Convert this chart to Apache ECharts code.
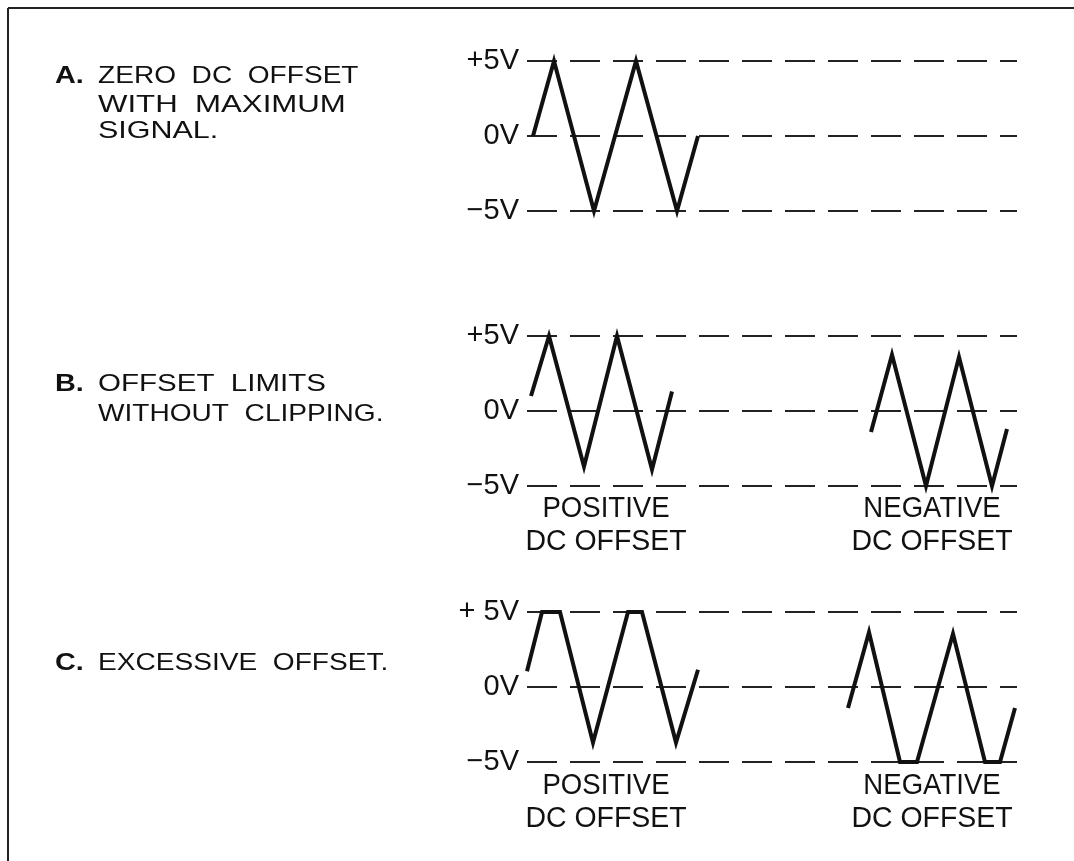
<!DOCTYPE html>
<html>
<head>
<meta charset="utf-8">
<script src="https://cdn.jsdelivr.net/npm/echarts@6/dist/echarts.min.js"></script>
<style>html,body{margin:0;padding:0;background:#fff;}#c{width:1074px;height:861px;}</style>
</head>
<body>
<div id="c"></div>
<script>
// ---- data (time in arbitrary units, level in volts) ----
const tA      = [6, 27, 67, 109, 150, 171];
const vA      = [0, 5, -5, 5, -5, 0];
const tBpos   = [4, 22, 57, 90, 125, 145];
const vBpos   = [1.0, 5, -3.7, 5, -3.9, 1.3];
const tBneg   = [344, 365, 399, 432, 465, 480];
const vBneg   = [-1.4, 3.75, -5, 3.6, -5, -1.2];
const tCpos   = [0, 15, 33, 66, 101, 115, 149, 171];
const vCpos   = [1.05, 5, 5, -3.7, 5, 5, -3.7, 1.15];
const tCneg   = [321, 342, 373, 390, 426, 458, 473, 488];
const vCneg   = [-1.4, 3.65, -5, -5, 3.55, -5, -5, -1.4];
const levels  = [-5, 0, 5];
const tickLabelsAB = ['\u22125V', '0V', '+5V'];
const tickLabelsC  = ['\u22125V', '0V', '+ 5V'];
const panelTitles = [
  ['A.', ['ZERO  DC  OFFSET', 'WITH  MAXIMUM', 'SIGNAL.']],
  ['B.', ['OFFSET  LIMITS', 'WITHOUT  CLIPPING.']],
  ['C.', ['EXCESSIVE  OFFSET.']]
];
const subLabels = ['POSITIVE', 'DC OFFSET', 'NEGATIVE', 'DC OFFSET'];

const pairs = (t, v) => t.map((x, i) => [x, v[i]]);
const INK = '#111';
const FONT = '"Liberation Sans", Arial, sans-serif';

const gridTops = [61, 336, 612];
const grids = gridTops.map(t => ({ left: 527, width: 490, top: t, height: 150 }));
const xAxes = grids.map((g, i) => ({
  gridIndex: i, type: 'value', min: 0, max: 490, show: false
}));
const yAxes = grids.map((g, i) => {
  const labels = i === 2 ? tickLabelsC : tickLabelsAB;
  return {
    gridIndex: i, type: 'value', min: levels[0], max: levels[2], interval: 5,
    axisLine: { show: false }, axisTick: { show: false },
    axisLabel: {
      margin: 8, fontSize: 29, color: INK, fontFamily: FONT,
      formatter: v => labels[levels.indexOf(v)]
    },
    splitLine: { show: true, showMinLine: true, showMaxLine: true,
      lineStyle: { color: '#222', width: 2, type: [30, 13] } }
  };
});
const waveStyle = { color: INK, width: 4, join: 'miter', miterLimit: 20, cap: 'butt' };
const waves = [
  [0, tA, vA], [1, tBpos, vBpos], [1, tBneg, vBneg], [2, tCpos, vCpos], [2, tCneg, vCneg]
].map(([g, t, v]) => ({
  type: 'line', xAxisIndex: g, yAxisIndex: g, data: pairs(t, v),
  symbol: 'none', clip: false, lineStyle: waveStyle, silent: true
}));

const graphics = [];
// frame
graphics.push({ type: 'line', shape: { x1: 8, y1: 8, x2: 1074, y2: 8 }, style: { stroke: '#222', lineWidth: 2 } });
graphics.push({ type: 'line', shape: { x1: 8, y1: 8, x2: 8, y2: 861 }, style: { stroke: '#222', lineWidth: 2 } });
// panel descriptions
const titleY = [[76, 105, 131], [384, 414], [663]];
const titleScale = [[1.17, 1.3, 1.27], [1.23, 1.17], [1.17]];
panelTitles.forEach((p, i) => {
  graphics.push({ type: 'text', x: 55, y: titleY[i][0], scaleX: 1.2,
    style: { text: p[0], font: 'bold 24px ' + FONT, fill: INK, verticalAlign: 'middle', align: 'left' } });
  p[1].forEach((line, j) => {
    graphics.push({ type: 'text', x: 98, y: titleY[i][j], scaleX: titleScale[i][j],
      style: { text: line, font: '24px ' + FONT, fill: INK, verticalAlign: 'middle', align: 'left' } });
  });
});
// sub labels under panels B and C
const subPos = [[606, 932], [509, 542], [786, 819]];
[1, 2].forEach(k => {
  const y1 = subPos[k][0], y2 = subPos[k][1];
  [[subPos[0][0], subLabels[0], subLabels[1]], [subPos[0][1], subLabels[2], subLabels[3]]].forEach(([cx, a, b]) => {
    graphics.push({ type: 'text', x: cx, y: y1, scaleX: 0.95,
      style: { text: a, font: '29px ' + FONT, fill: INK, verticalAlign: 'middle', align: 'center' } });
    graphics.push({ type: 'text', x: cx, y: y2, scaleX: 0.98,
      style: { text: b, font: '29px ' + FONT, fill: INK, verticalAlign: 'middle', align: 'center' } });
  });
});

const chart = echarts.init(document.getElementById('c'), null, { renderer: 'canvas' });
chart.setOption({
  backgroundColor: '#fff',
  animation: false,
  grid: grids, xAxis: xAxes, yAxis: yAxes, series: waves,
  graphic: graphics
});
</script>
</body>
</html>
